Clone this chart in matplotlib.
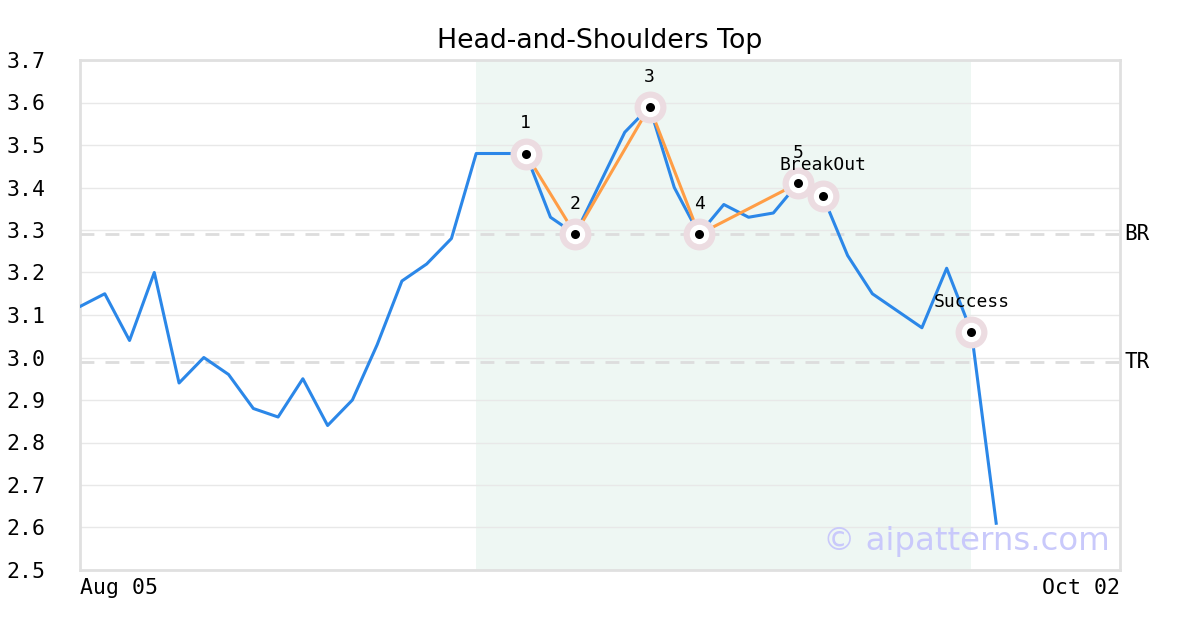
import matplotlib.pyplot as plt
import numpy as np

# serie de precios (indice de sesion)
precios = [3.12, 3.15, 3.04, 3.20, 2.94, 3.00, 2.96, 2.88, 2.86, 2.95,
           2.84, 2.90, 3.03, 3.18, 3.22, 3.28, 3.48, 3.48, 3.48, 3.33,
           3.29, 3.41, 3.53, 3.59, 3.40, 3.29, 3.36, 3.33, 3.34, 3.41,
           3.38, 3.24, 3.15, 3.11, 3.07, 3.21, 3.06, 2.61]

# puntos del patron
idx_patron = [18, 20, 23, 25, 29]
etiquetas_patron = ["1", "2", "3", "4", "5"]
idx_breakout = 30
idx_success = 36

nivel_br = 3.29
nivel_tr = 2.99

zona_inicio, zona_fin = 16, 36
xticks = [0, 42]
xtick_labels = ["Aug 05", "Oct 02"]
yticks = [2.5, 2.6, 2.7, 2.8, 2.9, 3.0, 3.1, 3.2, 3.3, 3.4, 3.5, 3.6, 3.7]

mono = "DejaVu Sans Mono"

fig = plt.figure(figsize=(12, 6.3), dpi=100)
ax = fig.add_axes([80 / 1200, 60 / 630, 1040 / 1200, 510 / 630])

x = np.arange(len(precios))
ax.axvspan(zona_inicio, zona_fin, color="#eef7f3", zorder=0, lw=0)

for y in yticks:
    ax.axhline(y, color="#e8e8e8", lw=1, zorder=1)

ax.axhline(nivel_br, color="#dddddd", lw=2, ls=(0, (5, 4)), zorder=1)
ax.axhline(nivel_tr, color="#dddddd", lw=2, ls=(0, (5, 4)), zorder=1)

ax.plot(x, precios, color="#2b87e8", lw=2.2, zorder=3)

px = [x[i] for i in idx_patron]
py = [precios[i] for i in idx_patron]
ax.plot(px, py, color="#ff9d45", lw=2.2, zorder=4)
ax.plot([idx_patron[-1], idx_breakout], [precios[idx_patron[-1]], precios[idx_breakout]],
        color="#a9a9e6", lw=2.2, zorder=4)

marcas = idx_patron + [idx_breakout, idx_success]
mx = [x[i] for i in marcas]
my = [precios[i] for i in marcas]
ax.plot(mx, my, "o", ms=23, color="#ecdce1", mec="none", zorder=5)
ax.plot(mx, my, "o", ms=14, color="white", mec="none", zorder=6)
ax.plot(mx, my, "o", ms=6.5, color="black", mec="none", zorder=7)

for i, lab in zip(idx_patron, etiquetas_patron):
    ax.annotate(lab, (x[i], precios[i]), xytext=(0, 30), textcoords="offset pixels",
                ha="center", va="center", fontsize=13, family=mono, zorder=8)
ax.annotate("BreakOut", (x[idx_breakout], precios[idx_breakout]), xytext=(0, 31),
            textcoords="offset pixels", ha="center", va="center", fontsize=13, family=mono, zorder=8)
ax.annotate("Success", (x[idx_success], precios[idx_success]), xytext=(0, 30),
            textcoords="offset pixels", ha="center", va="center", fontsize=13, family=mono, zorder=8)

ax.text(1.004, nivel_br, "BR", transform=ax.get_yaxis_transform(), va="center", ha="left",
        fontsize=15, family=mono)
ax.text(1.004, nivel_tr, "TR", transform=ax.get_yaxis_transform(), va="center", ha="left",
        fontsize=15, family=mono)

ax.text(0.99, 0.055, "© aipatterns.com", transform=ax.transAxes, ha="right", va="center",
        fontsize=23.3, color="#c9c9fb", zorder=9)

ax.set_xlim(0, 42)
ax.set_ylim(2.5, 3.7)
ax.set_yticks(yticks)
ax.set_yticklabels([f"{v:.1f}" for v in yticks], family=mono, fontsize=15.5)
ax.set_xticks(xticks)
ax.set_xticklabels(xtick_labels, family=mono, fontsize=15.5)
labs = ax.get_xticklabels()
labs[0].set_ha("left")
labs[1].set_ha("right")
ax.tick_params(axis="both", length=0)
ax.tick_params(axis="y", pad=25)
ax.tick_params(axis="x", pad=6)
for s in ax.spines.values():
    s.set_color("#e0e0e0")
    s.set_linewidth(2)

ax.set_title("Head-and-Shoulders Top", fontsize=19.3, pad=9)

fig.savefig("out.png", dpi=100)
